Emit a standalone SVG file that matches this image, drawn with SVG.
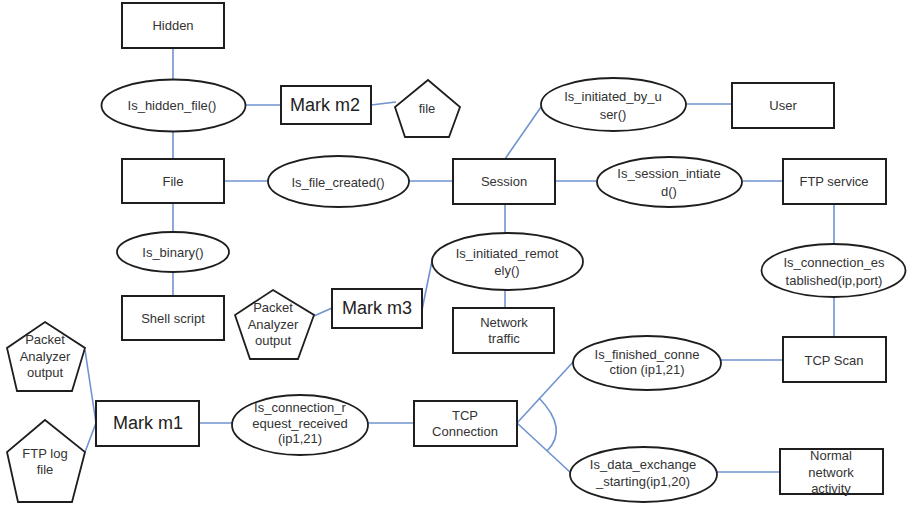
<svg xmlns="http://www.w3.org/2000/svg" width="907" height="508" viewBox="0 0 907 508">
  <style>
    .box { fill: #ffffff; stroke: #1e1e1e; stroke-width: 2; }
    .ell { fill: #ffffff; stroke: #1e1e1e; stroke-width: 1.8; }
    .pent { fill: #ffffff; stroke: #1e1e1e; stroke-width: 1.8; stroke-linejoin: miter; }
    .link { fill: none; stroke: #6f93cf; stroke-width: 1.6; }
    text { font-family: "Liberation Sans", Arial, sans-serif; font-size: 13px; fill: #333333; text-anchor: middle; dominant-baseline: central; }
    .big { font-size: 18px; fill: #222222; }
  </style>
  <rect width="907" height="508" fill="#ffffff"/>

  <!-- connectors -->
  <g id="connectors">
    <line class="link" x1="173" y1="48" x2="173" y2="79"/>
    <line class="link" x1="173" y1="132" x2="173" y2="159"/>
    <line class="link" x1="246" y1="105" x2="281" y2="105"/>
    <line class="link" x1="371" y1="105" x2="396" y2="102"/>
    <line class="link" x1="224" y1="181" x2="268" y2="181"/>
    <line class="link" x1="409" y1="181" x2="453" y2="181"/>
    <line class="link" x1="173" y1="203" x2="173" y2="232"/>
    <line class="link" x1="173" y1="272" x2="173" y2="296"/>
    <line class="link" x1="505" y1="159" x2="541" y2="107"/>
    <line class="link" x1="686" y1="104" x2="732" y2="104"/>
    <line class="link" x1="555" y1="181" x2="597" y2="181"/>
    <line class="link" x1="742" y1="181" x2="783" y2="181"/>
    <line class="link" x1="834" y1="204" x2="834" y2="244"/>
    <line class="link" x1="834" y1="297" x2="834" y2="337"/>
    <line class="link" x1="505" y1="204" x2="505" y2="233"/>
    <line class="link" x1="505" y1="290" x2="505" y2="308"/>
    <line class="link" x1="422" y1="310" x2="433" y2="256"/>
    <line class="link" x1="314" y1="316" x2="332" y2="308"/>
    <line class="link" x1="85" y1="350" x2="96" y2="423"/>
    <line class="link" x1="85" y1="452" x2="96" y2="423"/>
    <line class="link" x1="199" y1="423" x2="232" y2="423"/>
    <line class="link" x1="368" y1="423" x2="414" y2="423"/>
    <line class="link" x1="517" y1="423" x2="574" y2="361"/>
    <line class="link" x1="517" y1="423" x2="571" y2="473"/>
    <path class="link" d="M539,398 Q569,429 547,451"/>
    <line class="link" x1="721" y1="360" x2="783" y2="360"/>
    <line class="link" x1="717" y1="472" x2="780" y2="472"/>
  </g>

  <!-- nodes -->
  <g id="hidden"><rect class="box" x="122" y="3" width="102" height="45"/><text x="173" y="25">Hidden</text></g>
  <g id="is-hidden-file"><ellipse class="ell" cx="173.5" cy="105.5" rx="72" ry="26"/><text x="172" y="105">Is_hidden_file()</text></g>
  <g id="mark-m2"><rect class="box" x="281" y="86" width="90" height="38"/><text class="big" x="325" y="105">Mark m2</text></g>
  <g id="file-source"><polygon class="pent" points="428,80 460,107 449,137 405,137 395,107"/><text x="427" y="108">file</text></g>
  <g id="file"><rect class="box" x="122" y="159" width="102" height="44"/><text x="173" y="181">File</text></g>
  <g id="is-file-created"><ellipse class="ell" cx="338.5" cy="181.5" rx="70.5" ry="25.5"/><text x="338" y="182">Is_file_created()</text></g>
  <g id="session"><rect class="box" x="453" y="159" width="102" height="45"/><text x="504" y="181">Session</text></g>
  <g id="is-initiated-by-user"><ellipse class="ell" cx="613.5" cy="104.5" rx="72.5" ry="26.5"/><text x="613" y="96">Is_initiated_by_u</text><text x="613" y="114">ser()</text></g>
  <g id="user"><rect class="box" x="732" y="83" width="102" height="45"/><text x="783" y="105">User</text></g>
  <g id="is-session-intiated"><ellipse class="ell" cx="669.5" cy="182" rx="72.5" ry="25"/><text x="669" y="173">Is_session_intiate</text><text x="669" y="191">d()</text></g>
  <g id="ftp-service"><rect class="box" x="783" y="159" width="103" height="45"/><text x="834" y="181">FTP service</text></g>
  <g id="is-connection-established"><ellipse class="ell" cx="833.5" cy="270.5" rx="72" ry="26.5"/><text x="834" y="262">Is_connection_es</text><text x="834" y="280">tablished(ip,port)</text></g>
  <g id="is-binary"><ellipse class="ell" cx="173" cy="252" rx="56" ry="20"/><text x="173" y="252">Is_binary()</text></g>
  <g id="shell-script"><rect class="box" x="122" y="296" width="102" height="44"/><text x="173" y="318">Shell script</text></g>
  <g id="packet-analyzer-2"><polygon class="pent" points="273,290 314,315 298,359 250,359 235,315"/><text x="273" y="307">Packet</text><text x="273" y="324">Analyzer</text><text x="273" y="340">output</text></g>
  <g id="mark-m3"><rect class="box" x="332" y="289" width="90" height="39"/><text class="big" x="377" y="308">Mark m3</text></g>
  <g id="is-initiated-remotely"><ellipse class="ell" cx="507.5" cy="261.5" rx="75.5" ry="28.5"/><text x="507" y="253">Is_initiated_remot</text><text x="507" y="270">ely()</text></g>
  <g id="network-traffic"><rect class="box" x="453" y="308" width="101" height="45"/><text x="504" y="322">Network</text><text x="504" y="338">traffic</text></g>
  <g id="packet-analyzer-1"><polygon class="pent" points="45,322 85,348 72,391 17,391 7,348"/><text x="45" y="339">Packet</text><text x="45" y="356">Analyzer</text><text x="45" y="372">output</text></g>
  <g id="ftp-log-file"><polygon class="pent" points="45,420 85,452 72,502 18,502 7,452"/><text x="45" y="453">FTP log</text><text x="45" y="469">file</text></g>
  <g id="mark-m1"><rect class="box" x="96" y="401" width="103" height="45"/><text class="big" x="148" y="423">Mark m1</text></g>
  <g id="is-connection-request-received"><ellipse class="ell" cx="300" cy="425" rx="68" ry="30"/><text x="300" y="407">Is_connection_r</text><text x="300" y="423">equest_received</text><text x="300" y="438">(ip1,21)</text></g>
  <g id="tcp-connection"><rect class="box" x="414" y="401" width="103" height="45"/><text x="465" y="415">TCP</text><text x="465" y="431">Connection</text></g>
  <g id="is-finished-connection"><ellipse class="ell" cx="647" cy="363" rx="74" ry="27"/><text x="647" y="354">Is_finished_conne</text><text x="647" y="369">ction (ip1,21)</text></g>
  <g id="tcp-scan"><rect class="box" x="783" y="337" width="103" height="45"/><text x="834" y="360">TCP Scan</text></g>
  <g id="is-data-exchange-starting"><ellipse class="ell" cx="643.5" cy="474.5" rx="73.5" ry="27.5"/><text x="643" y="464">Is_data_exchange</text><text x="643" y="481">_starting(ip1,20)</text></g>
  <g id="normal-network-activity"><rect class="box" x="780" y="449" width="103" height="45"/><text x="831" y="455">Normal</text><text x="831" y="472">network</text><text x="831" y="488">activity</text></g>
</svg>
